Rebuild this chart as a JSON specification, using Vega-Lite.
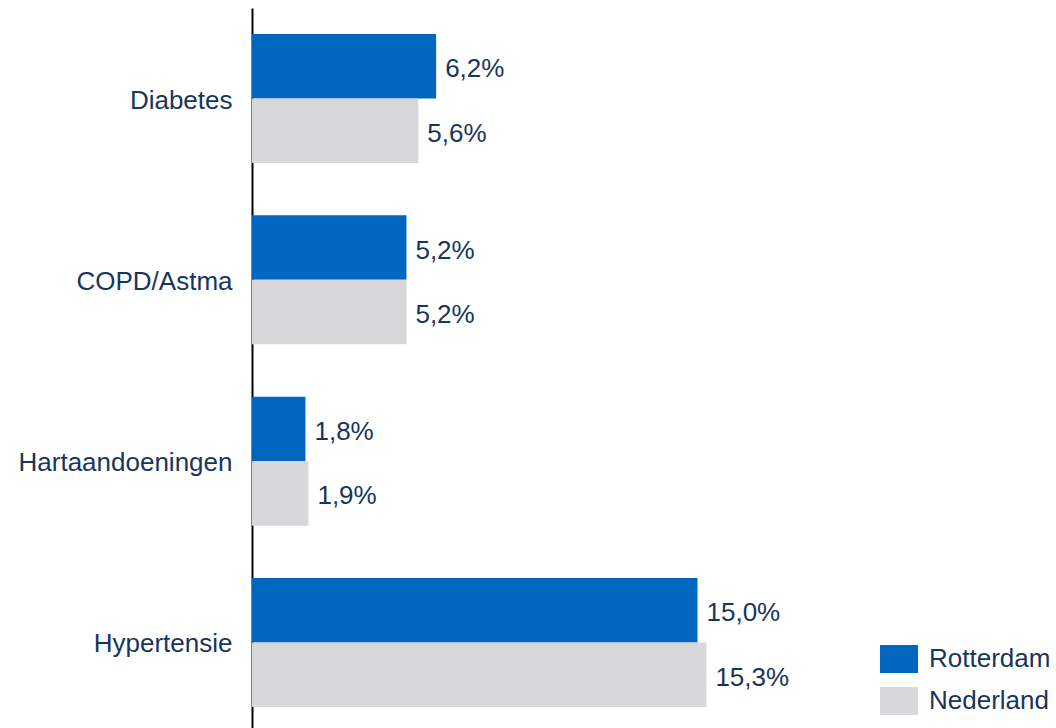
{
  "$schema": "https://vega.github.io/schema/vega-lite/v6.json",
  "autosize": {"type": "none"},
  "padding": {"left": 252, "top": 8, "right": 210, "bottom": 0},
  "width": 594,
  "height": 720,
  "background": "#ffffff",
  "config": {
    "view": {"stroke": null},
    "font": "Liberation Sans",
    "locale": {"number": {"decimal": ",", "thousands": ".", "grouping": [3], "currency": ["€ ", ""]}}
  },
  "data": {
    "values": [
      {"categorie": "Diabetes", "gebied": "Rotterdam", "waarde": 0.062},
      {"categorie": "Diabetes", "gebied": "Nederland", "waarde": 0.056},
      {"categorie": "COPD/Astma", "gebied": "Rotterdam", "waarde": 0.052},
      {"categorie": "COPD/Astma", "gebied": "Nederland", "waarde": 0.052},
      {"categorie": "Hartaandoeningen", "gebied": "Rotterdam", "waarde": 0.018},
      {"categorie": "Hartaandoeningen", "gebied": "Nederland", "waarde": 0.019},
      {"categorie": "Hypertensie", "gebied": "Rotterdam", "waarde": 0.150},
      {"categorie": "Hypertensie", "gebied": "Nederland", "waarde": 0.153}
    ]
  },
  "encoding": {
    "y": {
      "field": "categorie",
      "type": "nominal",
      "sort": ["Diabetes", "COPD/Astma", "Hartaandoeningen", "Hypertensie"],
      "scale": {"paddingInner": 0.2885, "paddingOuter": 0.13, "align": 0.553},
      "axis": {
        "title": null,
        "ticks": false,
        "tickSize": 0,
        "labelPadding": 20,
        "labelOffset": 2,
        "labelLimit": 0,
        "labelFontSize": 26,
        "labelColor": "#17365D",
        "labelFont": "Liberation Sans",
        "domainColor": "#000000",
        "domainWidth": 2,
        "grid": false
      }
    },
    "yOffset": {
      "field": "gebied",
      "type": "nominal",
      "sort": ["Rotterdam", "Nederland"],
      "scale": {"paddingInner": 0, "paddingOuter": 0}
    },
    "x": {
      "field": "waarde",
      "type": "quantitative",
      "scale": {"domain": [0, 0.2], "nice": false},
      "axis": null
    }
  },
  "layer": [
    {
      "mark": {"type": "bar"},
      "encoding": {
        "color": {
          "field": "gebied",
          "type": "nominal",
          "scale": {"domain": ["Rotterdam", "Nederland"], "range": ["#0066BF", "#D8D8DA"]},
          "legend": {
            "title": null,
            "orient": "none",
            "legendX": 628,
            "legendY": 632,
            "padding": 0,
            "symbolType": "M-1,-0.737H1V0.737H-1Z",
            "symbolSize": 1444,
            "symbolStrokeWidth": 0,
            "symbolOpacity": 1,
            "rowPadding": 8,
            "labelOffset": 11,
            "labelFontSize": 26,
            "labelFont": "Liberation Sans",
            "labelColor": "#17365D"
          }
        }
      }
    },
    {
      "mark": {"type": "text", "align": "left", "baseline": "middle", "dx": 9, "dy": 3, "fontSize": 26, "font": "Liberation Sans", "color": "#17365D"},
      "encoding": {
        "text": {"field": "waarde", "type": "quantitative", "format": ".1%"}
      }
    }
  ]
}
